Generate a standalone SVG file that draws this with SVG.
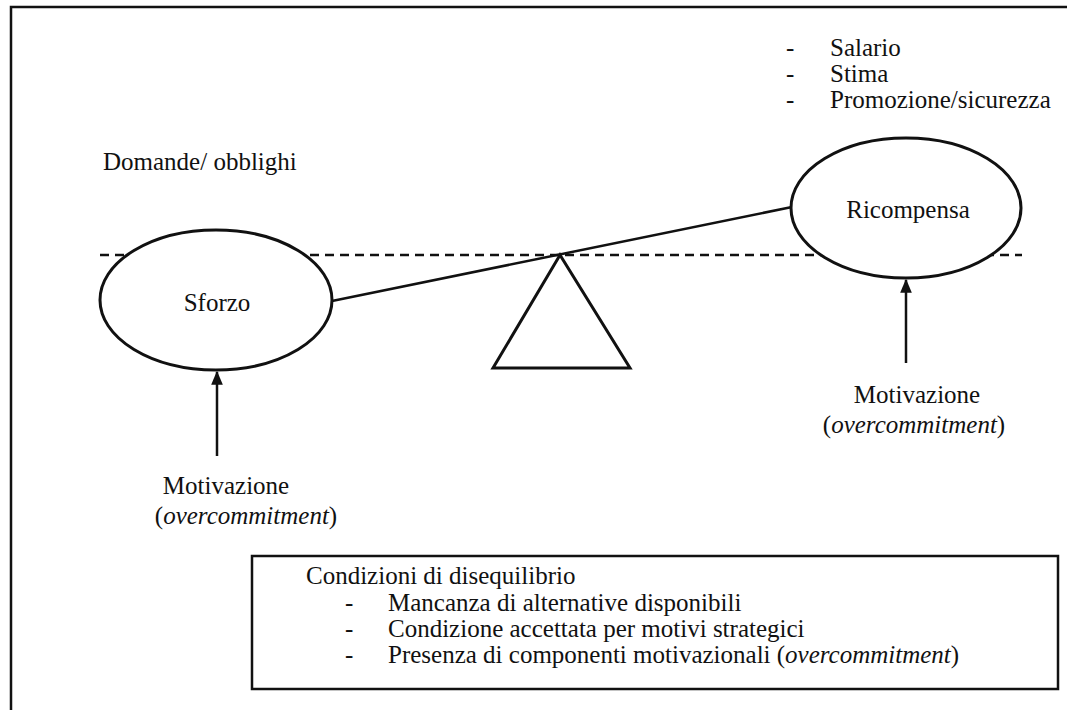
<svg xmlns="http://www.w3.org/2000/svg" width="1067" height="710" viewBox="0 0 1067 710">
<style>
text{font-family:"Liberation Serif","Times New Roman",serif;fill:#111;font-size:25px}
.b{font-size:25px}
.shape{fill:#fff;stroke:#111;stroke-width:3}
.ln{stroke:#111;stroke-width:2.5;fill:none}
.dash{stroke:#111;stroke-width:2.5;stroke-dasharray:9 6;fill:none}
</style>
<defs>
<marker id="arr" viewBox="0 0 12 12" refX="11" refY="6" markerWidth="14" markerHeight="14" orient="auto" markerUnits="userSpaceOnUse">
<path d="M0,1 L12,6 L0,11 z" fill="#111"/>
</marker>
</defs>
<rect width="1067" height="710" fill="#fff"/>
<path d="M11,712 V7 H1070" class="ln" stroke-width="3"/>
<g id="rewards-list">
<text x="786" y="56">-</text><text x="830" y="56">Salario</text>
<text x="786" y="82">-</text><text x="830" y="82">Stima</text>
<text x="786" y="108">-</text><text x="830" y="108">Promozione/sicurezza</text>
</g>
<g id="demands"><text x="103" y="170">Domande/ obblighi</text></g>
<g id="connectors">
<line x1="100" y1="255" x2="1022" y2="255" class="dash"/>
<line x1="332" y1="301" x2="792" y2="207" class="ln"/>
<line x1="217" y1="456" x2="217" y2="372" class="ln" marker-end="url(#arr)"/>
<line x1="906" y1="363" x2="906" y2="280" class="ln" marker-end="url(#arr)"/>
</g>
<g id="fulcrum"><polygon points="560,255 493,368 630,368" class="shape"/></g>
<g id="sforzo">
<ellipse cx="216" cy="300" rx="116" ry="70" class="shape"/>
<text x="217" y="311" text-anchor="middle">Sforzo</text>
</g>
<g id="ricompensa">
<ellipse cx="906" cy="208" rx="115" ry="70" class="shape"/>
<text x="908" y="218" text-anchor="middle">Ricompensa</text>
</g>
<g id="motiv-left">
<text x="226" y="494" text-anchor="middle">Motivazione</text>
<text x="246" y="524" text-anchor="middle">(<tspan font-style="italic">overcommitment</tspan>)</text>
</g>
<g id="motiv-right">
<text x="917" y="403" text-anchor="middle">Motivazione</text>
<text x="914" y="433" text-anchor="middle">(<tspan font-style="italic">overcommitment</tspan>)</text>
</g>
<g id="conditions">
<rect x="252" y="556" width="806" height="133" fill="#fff" stroke="#111" stroke-width="2.5"/>
<text class="b" x="306" y="584">Condizioni di disequilibrio</text>
<text class="b" x="345" y="611">-</text><text class="b" x="388" y="611">Mancanza di alternative disponibili</text>
<text class="b" x="345" y="637">-</text><text class="b" x="388" y="637">Condizione accettata per motivi strategici</text>
<text class="b" x="345" y="663">-</text><text class="b" x="388" y="663">Presenza di componenti motivazionali (<tspan font-style="italic">overcommitment</tspan>)</text>
</g>
</svg>
